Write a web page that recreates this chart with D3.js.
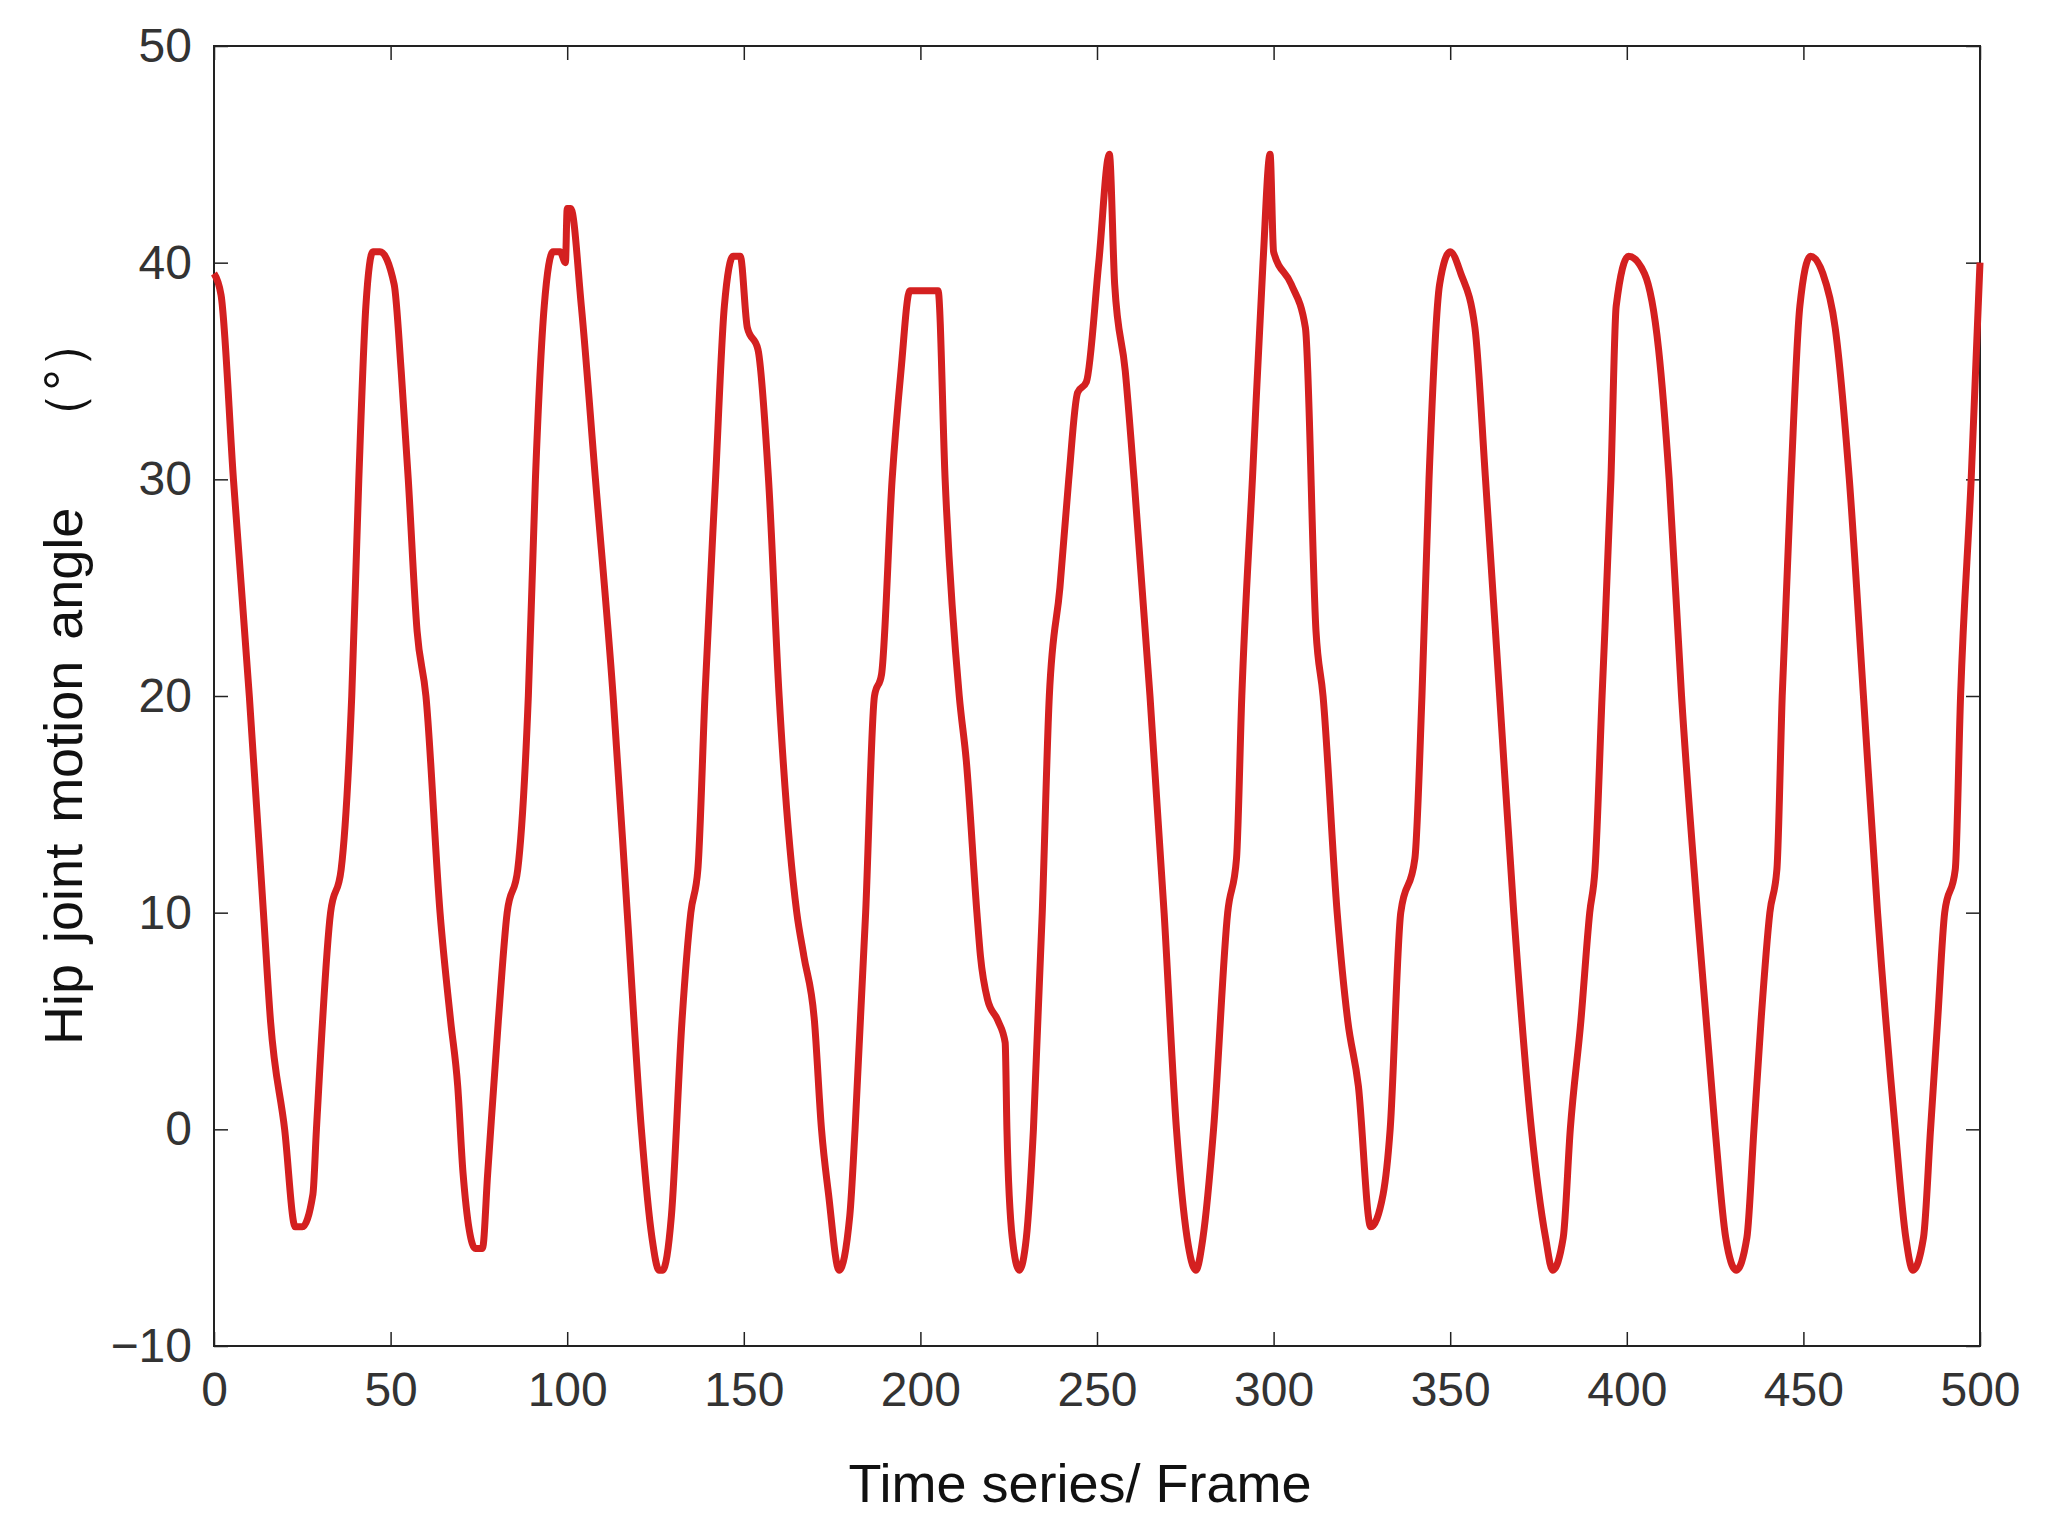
<!DOCTYPE html><html><head><meta charset="utf-8"><script src="https://cdn.jsdelivr.net/npm/d3@7"></script>
<style>body{margin:0;background:#fff}</style></head><body><svg id="c" width="2046" height="1526"></svg>
<script>
const frames=[0,2,5.5,10,14,16,20,23,25,28,29,33,36,39,41,43,45,47,51,53,55,57.5,60,64,67,69,70.5,74,76,77.5,80.5,83,86,89,91,93.5,96,98,99.5,100,101,104,108,113,117,121,124,126,127,129.5,132.5,135,137,139,142,144.5,147,149,151,154,157,160,165,167,170,172,174,177,180,181.5,184.5,187,189,192,194.5,197,205,207,211,213,216,217,219,222,224,224.5,226,228,230,232,234.5,236.5,239.5,242,244.5,247,250.5,253.5,255,258,260.5,265,269,272.5,275.5,278,280,283,287,289.5,291,294,297,299,300,305,309,312,314,318,321,324,327.5,331,333,336,340,342,344,347,350,353,357,360,364,368,373,377,379,382,384,387,389.5,391,393,395.5,397,400.5,405,409,412,415.5,420,425,428,431,434,436,438,440.5,442.5,444,446.5,449,452,455.5,459,463,467,471,476,479,481,484,486,488,490,493,494.5,497.5,500];
const angles=[39.5,38.5,30,20,10,5,0,-4.5,-4.5,-3,0,10,12,20,30,38,40.5,40.5,39,35,30,23,20,10,5,2,-2,-5.5,-5.5,-2,5,10,12,20,30,38,40.5,40.5,40,42.5,42.5,38,30,20,10,0,-5,-6.5,-6.5,-4,5,10,12,20,30,38,40.3,40.3,37,36,30,20,10,8,5,0,-3,-6.5,-4,0,10,20,21,30,35,38.7,38.7,30,20,17,10,8,6,5,4,0,-5,-6.5,-5,0,10,20,25,30,34,34.5,40,45,39,35,30,20,10,0,-5,-6.5,-5,0,10,12.5,20,30,40,45,40.5,39,37,23,20,10,5,2,-4.5,-3,0,10,12.5,20,30,39,40.5,39.5,37,30,20,10,0,-5,-6.5,-5,0,5,10,12,20,30,38,40.3,39.5,36,30,20,10,0,-5,-6.5,-5,0,5,10,12,20,30,38,40.3,39.5,37,30,20,10,0,-5,-6.5,-5,0,5,10,12,20,30,40];
const xTicks=[0,50,100,150,200,250,300,350,400,450,500];
const yTicks=[-10,0,10,20,30,40,50];
const L=214,R=1980,T=46,B=1346;
const svg=d3.select("#c");
const x=d3.scaleLinear().domain([0,500]).range([L,R]);
const y=d3.scaleLinear().domain([-10,50]).range([B,T]);
const font="Liberation Sans, Arial, sans-serif";
function st(g){g.select(".domain").remove();g.selectAll("line").attr("stroke","#222").attr("stroke-width",1.5);g.selectAll("text").attr("font-family",font).attr("font-size",48).attr("fill","#333");}
svg.append("g").attr("transform",`translate(0,${B})`).call(d3.axisBottom(x).tickValues(xTicks).tickSizeInner(-14).tickSizeOuter(0).tickPadding(26)).call(st);
svg.append("g").attr("transform",`translate(0,${T})`).call(d3.axisTop(x).tickValues(xTicks).tickSizeInner(-14).tickSizeOuter(0).tickFormat("")).call(st);
svg.append("g").attr("transform",`translate(${L},0)`).call(d3.axisLeft(y).tickValues(yTicks).tickSizeInner(-14).tickSizeOuter(0).tickPadding(22).tickFormat(d=>d<0?"\u2212"+(-d):d)).call(st);
svg.append("g").attr("transform",`translate(${R},0)`).call(d3.axisRight(y).tickValues(yTicks).tickSizeInner(-14).tickSizeOuter(0).tickFormat("")).call(st);
svg.append("rect").attr("x",L).attr("y",T).attr("width",R-L).attr("height",B-T).attr("fill","none").attr("stroke","#222").attr("stroke-width",2);
const data=frames.map((f,i)=>[f,angles[i]]);
svg.append("path").datum(data).attr("fill","none").attr("stroke","#d42020").attr("stroke-width",7).attr("stroke-linejoin","round")
 .attr("d",d3.line().x(d=>x(d[0])).y(d=>y(d[1])).curve(d3.curveMonotoneX));
svg.append("text").attr("x",1080).attr("y",1502).attr("text-anchor","middle").attr("font-family",font).attr("font-size",54).attr("fill","#111").text("Time series/ Frame");
svg.append("text").attr("transform",`translate(82,680) rotate(-90)`).attr("text-anchor","middle").attr("font-family",font).attr("font-size",54).attr("fill","#111").attr("word-spacing","6").attr("xml:space","preserve").text("Hip joint motion angle   （°）");
</script></body></html>
